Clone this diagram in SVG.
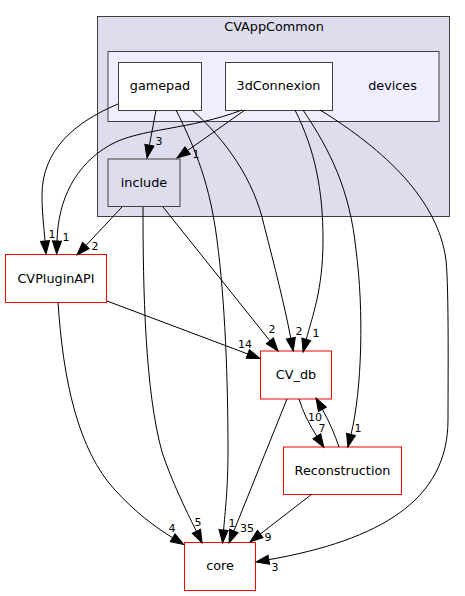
<svg xmlns="http://www.w3.org/2000/svg" width="465" height="596" viewBox="0 0 465 596">
<style>
text{font-family:"DejaVu Sans","Liberation Sans",sans-serif;fill:#000}
.n{font-size:12.8px;text-anchor:middle}
.l{font-size:11px;text-anchor:middle}
.cl{stroke:#404040;stroke-width:1}
.dk{fill:#fff;stroke:#404040;stroke-width:1}
.rd{fill:#fff;stroke:#ff0000;stroke-width:1}
.e{fill:none;stroke:#000;stroke-width:1;marker-end:url(#ah)}
</style>
<defs>
<marker id="ah" markerUnits="userSpaceOnUse" markerWidth="14" markerHeight="10" refX="0" refY="4.6" orient="auto" overflow="visible">
<path d="M0,0 L13,4.6 L0,9.2z" fill="#000" stroke="#000" stroke-width="1"/>
</marker>
</defs>
<rect width="465" height="596" fill="#fff"/>
<g id="cluster_CVAppCommon">
<rect x="97.5" y="16.5" width="352" height="200" fill="#ddddee" class="cl"/>
<text class="n" x="274" y="31">CVAppCommon</text>
</g>
<g id="cluster_devices">
<rect x="108" y="51.5" width="331" height="70" fill="#eeeeff" class="cl"/>
<text class="n" x="392.5" y="90">devices</text>
</g>
<g id="node_gamepad">
<rect x="118.5" y="62.5" width="83" height="48" class="dk"/>
<text class="n" x="160" y="90">gamepad</text>
</g>
<g id="node_3dConnexion">
<rect x="225.5" y="62.5" width="107" height="48" class="dk"/>
<text class="n" x="278.5" y="90">3dConnexion</text>
</g>
<g id="node_include">
<rect x="108" y="159" width="72" height="47.5" fill="#ddddee" stroke="#404040"/>
<text class="n" x="144" y="187">include</text>
</g>
<g id="node_CVPluginAPI">
<rect x="5.5" y="254.5" width="101" height="48" class="rd"/>
<text class="n" x="56" y="282.5">CVPluginAPI</text>
</g>
<g id="node_CV_db">
<rect x="260.5" y="351" width="71" height="48" class="rd"/>
<text class="n" x="296" y="378.5">CV_db</text>
</g>
<g id="node_Reconstruction">
<rect x="283.5" y="447" width="118" height="47.5" class="rd"/>
<text class="n" x="342.5" y="474.5">Reconstruction</text>
</g>
<g id="node_core">
<rect x="184.5" y="542.5" width="71" height="48" class="rd"/>
<text class="n" x="220" y="570">core</text>
</g>
<g id="connectors">
<path class="e" d="M118,104 C75,122 42,150 42,195 C42,213 44,228 45,241"/>
<path class="e" d="M242,110 C190,130 140,128 110,145 C75,165 58,200 57,241"/>
<path class="e" d="M156,110 L149.4,145.2"/>
<path class="e" d="M245,110 L187.6,150.5"/>
<path class="e" d="M122,207 L85.9,245.5"/>
<path class="e" d="M143,207 C143,290 145,390 162,452 C172,482 185,508 196.4,531.3"/>
<path class="e" d="M163,207 L269.9,340.8"/>
<path class="e" d="M176,110 C196,150 210,185 217,240 C225,300 228,380 228,450 C228,490 225,512 223.6,530"/>
<path class="e" d="M192,110 C226,140 254,180 264,225 C275,268 284,303 290.8,338.2"/>
<path class="e" d="M295,110 C315,150 323,190 323,240 C323,290 312,317 306.3,339.4"/>
<path class="e" d="M303,110 C330,150 350,190 356,250 C364,310 362,390 351,434.4"/>
<path class="e" d="M320,110 C385,150 438,200 446,260 C449,290 448,380 448,420 C448,500 380,540 268.8,559.7"/>
<path class="e" d="M107,301 L247.8,354"/>
<path class="e" d="M58,302 C63,380 78,450 115,490 C135,512 155,527 172.6,537.7"/>
<path class="e" d="M287,399 L233.9,530.9"/>
<path class="e" d="M299,399 C303,412 309,424 316.8,436.2"/>
<path class="e" d="M339,447 C335,435 329,421 322.4,409.3"/>
<path class="e" d="M312,494 L260.3,534"/>
<text class="l" x="52" y="238">1</text>
<text class="l" x="66" y="241">1</text>
<text class="l" x="95" y="250">2</text>
<text class="l" x="159" y="145">3</text>
<text class="l" x="196" y="158">1</text>
<text class="l" x="272" y="333">2</text>
<text class="l" x="299" y="335">2</text>
<text class="l" x="316" y="337">1</text>
<text class="l" x="245" y="348">14</text>
<text class="l" x="358" y="432">1</text>
<text class="l" x="315" y="421">10</text>
<text class="l" x="322" y="432">7</text>
<text class="l" x="172" y="532">4</text>
<text class="l" x="198" y="526">5</text>
<text class="l" x="232" y="527">1</text>
<text class="l" x="247" y="532">35</text>
<text class="l" x="268" y="541">9</text>
<text class="l" x="275" y="571">3</text>
</g>
</svg>
